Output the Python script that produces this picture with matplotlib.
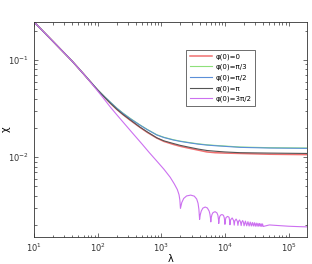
import numpy as np
import matplotlib
matplotlib.use('Agg')
import matplotlib.pyplot as plt
from matplotlib.ticker import LogLocator, NullFormatter

# values
lam = [10, 20, 40, 60, 100, 130, 160, 200, 250, 330, 460, 600, 850, 1100, 1550, 2000, 2800, 3800, 5200, 7000, 10000, 17400, 50000, 200000]
chi_0 = [0.247, 0.155, 0.097, 0.072, 0.0490, 0.0410, 0.0357, 0.0310, 0.0274, 0.0238, 0.0203, 0.0180, 0.0157, 0.0145, 0.0135, 0.0129, 0.0123, 0.0118, 0.0113, 0.0111, 0.0110, 0.0109, 0.0107, 0.0106]
chi_pi3 = [0.247, 0.155, 0.097, 0.072, 0.0493, 0.0416, 0.0366, 0.0320, 0.0284, 0.0249, 0.0215, 0.0193, 0.0170, 0.0160, 0.0151, 0.0146, 0.0141, 0.0137, 0.0134, 0.0132, 0.0130, 0.0127, 0.0125, 0.0124]
chi_pi2 = [0.247, 0.155, 0.097, 0.072, 0.0493, 0.0415, 0.0365, 0.0318, 0.0282, 0.0247, 0.0214, 0.0192, 0.0169, 0.0159, 0.0150, 0.0145, 0.0140, 0.0136, 0.0133, 0.0131, 0.0129, 0.0126, 0.0124, 0.0123]
chi_pi = [0.247, 0.155, 0.097, 0.072, 0.0490, 0.0410, 0.0357, 0.0311, 0.0275, 0.0240, 0.0204, 0.0182, 0.0158, 0.0147, 0.0138, 0.0132, 0.0126, 0.0121, 0.0117, 0.0115, 0.0113, 0.0111, 0.0110, 0.0109]

# phi(0)=3pi/2 : keeps falling, then cusps every ~2000
lam_m = [10, 20, 40, 60, 80, 100, 125, 157, 200, 253, 350, 500, 650, 850, 1100, 1380, 1600, 1790, 1900, 1960,
         2000, 2100, 2250, 2500, 2900, 3300, 3600, 3780, 3900,
         4000, 4100, 4250, 4500, 4900, 5300, 5650, 5800, 5920,
         6000, 6100, 6250, 6500, 7000, 7500, 7750, 7920,
         8000, 8120, 8300, 8600, 9000, 9500, 9750, 9920,
         10000, 10150, 10400, 11000, 11600, 11850,
         12000, 12300, 13000, 13700, 14000, 14300, 15000, 15700,
         16000, 16400, 17000, 17600, 18000, 18400, 19000, 19600, 20000,
         21000, 22000, 23000, 24000, 25000, 26000, 27000, 28000, 29000, 30000,
         31000, 32000, 33000, 34000, 35000, 36000, 37000, 38000, 39000, 40000,
         50000, 70000, 100000, 150000, 200000]
chi_m = [0.247, 0.155, 0.097, 0.072, 0.0575, 0.0480, 0.0400, 0.0330, 0.0273, 0.0228, 0.0178, 0.0136, 0.0111, 0.0091, 0.0075, 0.0062, 0.0053, 0.00462, 0.0041, 0.0036,
         0.00296, 0.00340, 0.00375, 0.00398, 0.00406, 0.00396, 0.00370, 0.00335, 0.0029,
         0.00228, 0.00255, 0.00278, 0.00298, 0.00306, 0.00299, 0.00278, 0.0026, 0.00238,
         0.00215, 0.00238, 0.00255, 0.00268, 0.00274, 0.00266, 0.00252, 0.00228,
         0.00207, 0.00228, 0.00245, 0.00253, 0.00256, 0.00251, 0.00238, 0.0022,
         0.00203, 0.00224, 0.00238, 0.00245, 0.0024, 0.00222,
         0.00201, 0.00226, 0.00236, 0.00222, 0.00199, 0.0022, 0.0023, 0.00217,
         0.00198, 0.00218, 0.00225, 0.00214, 0.00197, 0.00214, 0.00222, 0.00212, 0.00196,
         0.00219, 0.00196, 0.00216, 0.00195, 0.00214, 0.00195, 0.00212, 0.00195, 0.00211, 0.00194,
         0.00209, 0.00194, 0.00208, 0.00194, 0.00207, 0.00194, 0.00206, 0.00193, 0.00205, 0.00193,
         0.00200, 0.00197, 0.00194, 0.00192, 0.00191]

labels = ['φ(0)=0', 'φ(0)=π/3', 'φ(0)=π/2', 'φ(0)=π', 'φ(0)=3π/2']
colors = ['#f07070', '#8ee07a', '#5b8fd8', '#555555', '#cc70f0']

fig = plt.figure(figsize=(3.12, 2.64), dpi=100)
ax = fig.add_axes([0.109, 0.102, 0.875, 0.815])

ax.plot(lam, chi_0, color=colors[0], lw=1.1, label=labels[0])
ax.plot(lam, chi_pi3, color=colors[1], lw=0.8, label=labels[1])
ax.plot(lam, chi_pi2, color=colors[2], lw=0.8, label=labels[2])
ax.plot(lam, chi_pi, color=colors[3], lw=0.8, label=labels[3])
ax.plot(lam_m, chi_m, color=colors[4], lw=0.8, label=labels[4])

ax.set_xscale('log')
ax.set_yscale('log')
ax.set_xlim(10, 1.95e5)
ax.set_ylim(1.5e-3, 0.247)

ax.xaxis.set_major_locator(LogLocator(base=10, numticks=10))
ax.xaxis.set_minor_locator(LogLocator(base=10, subs=np.arange(2, 10), numticks=20))
ax.xaxis.set_minor_formatter(NullFormatter())
ax.yaxis.set_minor_formatter(NullFormatter())
ax.tick_params(which='both', direction='in', top=True, right=True, labelsize=6, colors='#333333')
ax.tick_params(which='major', length=3, width=0.5)
ax.tick_params(which='minor', length=1.8, width=0.5)
for s in ax.spines.values():
    s.set_linewidth(0.6)
    s.set_color('#333333')

ax.set_xlabel('λ', fontsize=7, labelpad=0)
ax.set_ylabel('χ', fontsize=7)
ax.yaxis.set_label_coords(-0.085, 0.5)

leg = ax.legend(loc='upper left', bbox_to_anchor=(0.597, 0.812), bbox_transform=fig.transFigure,
                fontsize=5, fancybox=False, framealpha=1, edgecolor='#333333',
                handlelength=3.2, handletextpad=0.5, borderpad=0.5, labelspacing=0.6, borderaxespad=0)
leg.get_frame().set_linewidth(0.5)

plt.savefig('out.png', dpi=100)
